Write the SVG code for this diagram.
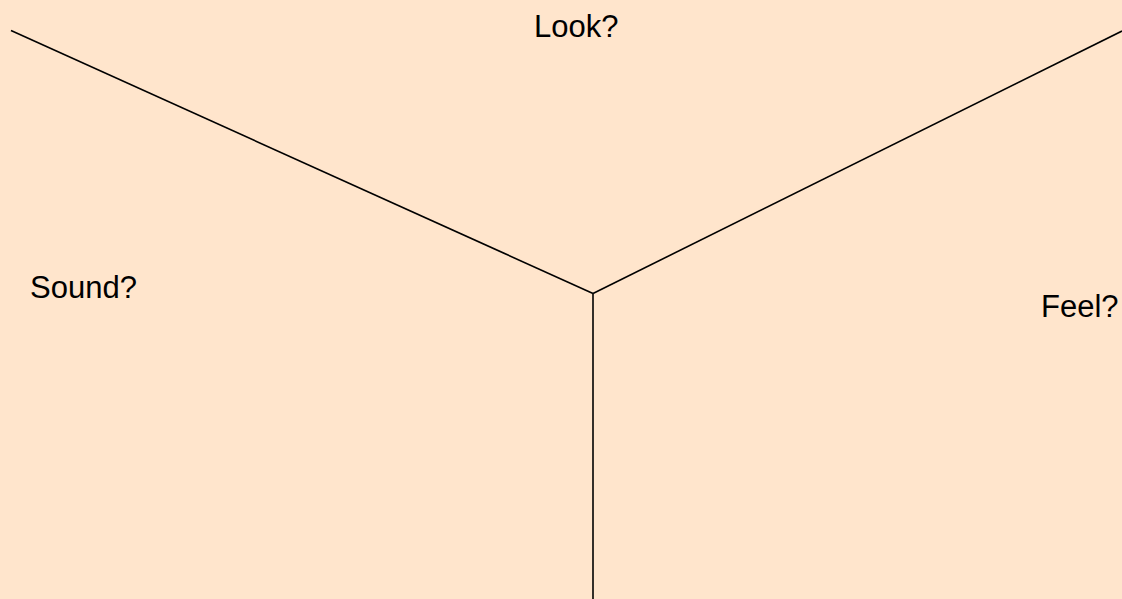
<svg xmlns="http://www.w3.org/2000/svg" width="1122" height="599" viewBox="0 0 1122 599">
<style>
.lbl{font-family:"Liberation Sans",Arial,sans-serif;font-size:31px;fill:#000}
.ln{stroke:#000;stroke-width:1.6;fill:none}
</style>
<rect width="1122" height="599" fill="#ffe5cc"/>
<g id="connectors">
<line class="ln" x1="11" y1="30.5" x2="593" y2="293.5"/>
<line class="ln" x1="1122" y1="31" x2="593" y2="293.5"/>
<line class="ln" x1="593" y1="293.5" x2="593" y2="599"/>
</g>
<g id="look"><text class="lbl" x="534" y="37">Look?</text></g>
<g id="sound"><text class="lbl" x="30" y="298">Sound?</text></g>
<g id="feel"><text class="lbl" x="1041" y="317">Feel?</text></g>
</svg>
